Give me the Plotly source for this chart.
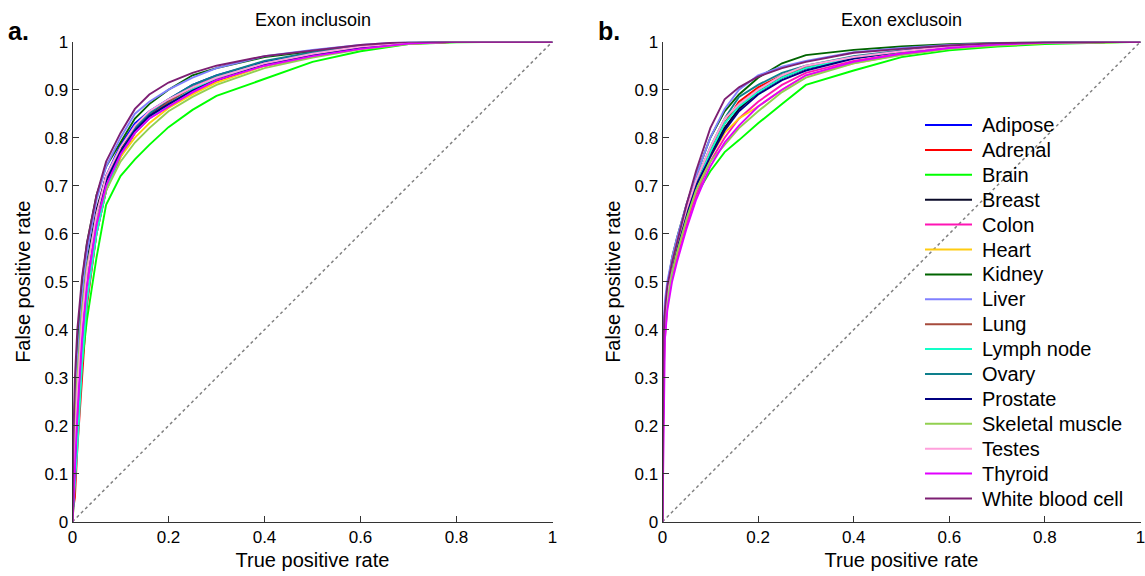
import plotly.graph_objects as go

tissues = ["Adipose", "Adrenal", "Brain", "Breast", "Colon", "Heart", "Kidney", "Liver",
           "Lung", "Lymph node", "Ovary", "Prostate", "Skeletal muscle", "Testes",
           "Thyroid", "White blood cell"]
colors = ["#0000ff", "#ff0000", "#00ff00", "#0a0a28", "#ff14b4", "#ffcc11", "#006400",
          "#8080ff", "#a64b3c", "#12ffc8", "#0e7f8c", "#000080", "#92d050", "#ffa0dc",
          "#e100ff", "#7d1f73"]

fpr_grid = [0, 0.002, 0.005, 0.01, 0.02, 0.03, 0.05, 0.07, 0.1, 0.13, 0.16, 0.2,
            0.25, 0.3, 0.4, 0.5, 0.6, 0.7, 0.8, 1.0]

# Panel a: Exon inclusion
inc_adipose = [0, 0.06, 0.12, 0.25, 0.42, 0.52, 0.64, 0.72, 0.785, 0.83, 0.855, 0.88, 0.91, 0.93, 0.958, 0.975, 0.99, 0.998, 1, 1]
inc_adrenal = [0, 0.03, 0.05, 0.15, 0.30, 0.45, 0.60, 0.69, 0.76, 0.81, 0.845, 0.87, 0.90, 0.92, 0.95, 0.97, 0.986, 0.996, 1, 1]
inc_brain = [0, 0.05, 0.10, 0.20, 0.33, 0.42, 0.55, 0.66, 0.72, 0.755, 0.785, 0.822, 0.858, 0.887, 0.922, 0.958, 0.98, 0.995, 0.999, 1]
inc_breast = [0, 0.08, 0.15, 0.28, 0.45, 0.54, 0.65, 0.72, 0.775, 0.82, 0.85, 0.875, 0.905, 0.925, 0.955, 0.973, 0.988, 0.997, 1, 1]
inc_colon = [0, 0.06, 0.12, 0.24, 0.40, 0.50, 0.62, 0.70, 0.765, 0.81, 0.84, 0.865, 0.893, 0.918, 0.95, 0.97, 0.986, 0.996, 1, 1]
inc_heart = [0, 0.08, 0.15, 0.28, 0.43, 0.52, 0.63, 0.70, 0.76, 0.80, 0.83, 0.862, 0.89, 0.915, 0.95, 0.97, 0.985, 0.996, 1, 1]
inc_kidney = [0, 0.15, 0.25, 0.36, 0.50, 0.58, 0.68, 0.74, 0.79, 0.84, 0.87, 0.90, 0.93, 0.945, 0.968, 0.98, 0.99, 0.998, 1, 1]
inc_liver = [0, 0.10, 0.20, 0.33, 0.47, 0.56, 0.67, 0.74, 0.80, 0.85, 0.875, 0.90, 0.925, 0.945, 0.97, 0.983, 0.993, 1, 1, 1]
inc_lung = [0, 0.05, 0.10, 0.20, 0.35, 0.46, 0.60, 0.69, 0.765, 0.815, 0.845, 0.875, 0.905, 0.925, 0.955, 0.973, 0.988, 0.997, 1, 1]
inc_lymph = [0, 0.04, 0.08, 0.15, 0.33, 0.46, 0.60, 0.69, 0.765, 0.81, 0.84, 0.87, 0.90, 0.925, 0.955, 0.975, 0.99, 0.998, 1, 1]
inc_ovary = [0, 0.08, 0.15, 0.28, 0.44, 0.53, 0.64, 0.71, 0.77, 0.82, 0.85, 0.88, 0.91, 0.93, 0.96, 0.978, 0.99, 0.998, 1, 1]
inc_prostate = [0, 0.06, 0.12, 0.25, 0.42, 0.52, 0.63, 0.71, 0.77, 0.815, 0.845, 0.87, 0.898, 0.92, 0.952, 0.972, 0.987, 0.997, 1, 1]
inc_skeletal = [0, 0.12, 0.20, 0.30, 0.44, 0.53, 0.63, 0.69, 0.75, 0.79, 0.82, 0.855, 0.885, 0.91, 0.945, 0.967, 0.984, 0.995, 1, 1]
inc_testes = [0, 0.08, 0.15, 0.27, 0.42, 0.52, 0.64, 0.72, 0.78, 0.825, 0.855, 0.88, 0.905, 0.925, 0.955, 0.975, 0.99, 0.998, 1, 1]
inc_thyroid = [0, 0.05, 0.10, 0.22, 0.38, 0.49, 0.62, 0.70, 0.765, 0.81, 0.84, 0.865, 0.895, 0.92, 0.95, 0.97, 0.985, 0.996, 1, 1]
inc_wbc = [0, 0.18, 0.30, 0.40, 0.51, 0.58, 0.68, 0.75, 0.81, 0.86, 0.89, 0.915, 0.935, 0.95, 0.97, 0.982, 0.993, 1, 1, 1]

# Panel b: Exon exclusion
exc_adipose = [0, 0.35, 0.43, 0.48, 0.53, 0.57, 0.64, 0.70, 0.77, 0.82, 0.86, 0.895, 0.925, 0.945, 0.966, 0.98, 0.99, 0.995, 0.998, 1]
exc_adrenal = [0, 0.35, 0.42, 0.47, 0.53, 0.57, 0.64, 0.70, 0.77, 0.83, 0.875, 0.905, 0.93, 0.948, 0.968, 0.98, 0.99, 0.995, 0.998, 1]
exc_brain = [0, 0.33, 0.41, 0.46, 0.52, 0.56, 0.63, 0.68, 0.73, 0.77, 0.795, 0.83, 0.87, 0.91, 0.94, 0.968, 0.982, 0.99, 0.995, 1]
exc_breast = [0, 0.36, 0.43, 0.48, 0.53, 0.57, 0.64, 0.70, 0.765, 0.82, 0.86, 0.895, 0.925, 0.945, 0.966, 0.98, 0.99, 0.995, 0.998, 1]
exc_colon = [0, 0.30, 0.38, 0.45, 0.51, 0.55, 0.62, 0.68, 0.75, 0.80, 0.84, 0.875, 0.91, 0.935, 0.96, 0.976, 0.988, 0.994, 0.998, 1]
exc_heart = [0, 0.33, 0.41, 0.46, 0.52, 0.56, 0.63, 0.69, 0.76, 0.81, 0.84, 0.865, 0.90, 0.93, 0.955, 0.973, 0.986, 0.993, 0.997, 1]
exc_kidney = [0, 0.36, 0.44, 0.49, 0.55, 0.59, 0.66, 0.72, 0.80, 0.855, 0.89, 0.925, 0.955, 0.972, 0.983, 0.99, 0.995, 0.998, 1, 1]
exc_liver = [0, 0.40, 0.46, 0.50, 0.55, 0.59, 0.66, 0.72, 0.80, 0.86, 0.90, 0.93, 0.948, 0.96, 0.978, 0.987, 0.993, 0.997, 0.999, 1]
exc_lung = [0, 0.35, 0.42, 0.47, 0.53, 0.57, 0.64, 0.70, 0.775, 0.83, 0.87, 0.90, 0.93, 0.948, 0.968, 0.98, 0.99, 0.995, 0.998, 1]
exc_lymph = [0, 0.33, 0.41, 0.46, 0.52, 0.57, 0.64, 0.70, 0.77, 0.83, 0.865, 0.895, 0.925, 0.945, 0.966, 0.98, 0.99, 0.995, 0.998, 1]
exc_ovary = [0, 0.37, 0.43, 0.48, 0.54, 0.58, 0.65, 0.71, 0.78, 0.84, 0.885, 0.91, 0.935, 0.95, 0.97, 0.982, 0.99, 0.996, 0.999, 1]
exc_prostate = [0, 0.36, 0.43, 0.48, 0.53, 0.57, 0.64, 0.70, 0.76, 0.815, 0.855, 0.89, 0.92, 0.94, 0.965, 0.98, 0.99, 0.995, 0.998, 1]
exc_skeletal = [0, 0.33, 0.41, 0.46, 0.52, 0.56, 0.63, 0.69, 0.75, 0.785, 0.82, 0.855, 0.895, 0.925, 0.955, 0.972, 0.985, 0.992, 0.997, 1]
exc_testes = [0, 0.35, 0.43, 0.48, 0.54, 0.58, 0.65, 0.71, 0.78, 0.84, 0.87, 0.90, 0.93, 0.95, 0.968, 0.98, 0.99, 0.995, 0.998, 1]
exc_thyroid = [0, 0.22, 0.38, 0.44, 0.50, 0.54, 0.61, 0.67, 0.74, 0.79, 0.825, 0.865, 0.90, 0.93, 0.958, 0.975, 0.987, 0.994, 0.998, 1]
exc_wbc = [0, 0.38, 0.44, 0.49, 0.54, 0.58, 0.66, 0.73, 0.82, 0.88, 0.905, 0.927, 0.945, 0.958, 0.977, 0.985, 0.992, 0.997, 0.999, 1]

inclusion = [inc_adipose, inc_adrenal, inc_brain, inc_breast, inc_colon, inc_heart, inc_kidney,
             inc_liver, inc_lung, inc_lymph, inc_ovary, inc_prostate, inc_skeletal, inc_testes,
             inc_thyroid, inc_wbc]
exclusion = [exc_adipose, exc_adrenal, exc_brain, exc_breast, exc_colon, exc_heart, exc_kidney,
             exc_liver, exc_lung, exc_lymph, exc_ovary, exc_prostate, exc_skeletal, exc_testes,
             exc_thyroid, exc_wbc]

x_ticks = [0, 0.2, 0.4, 0.6, 0.8, 1]
x_ticktext = ["0", "0.2", "0.4", "0.6", "0.8", "1"]
y_ticks = [0, 0.1, 0.2, 0.3, 0.4, 0.5, 0.6, 0.7, 0.8, 0.9, 1]
y_ticktext = ["0", "0.1", "0.2", "0.3", "0.4", "0.5", "0.6", "0.7", "0.8", "0.9", "1"]
diag = [0, 1]

FONT = "Liberation Sans, Arial, Helvetica, sans-serif"
W, H = 1145, 576

fig = go.Figure()

for panel, data in ((1, inclusion), (2, exclusion)):
    xa = "x" if panel == 1 else "x2"
    ya = "y" if panel == 1 else "y2"
    fig.add_trace(go.Scatter(x=diag, y=diag, mode="lines", xaxis=xa, yaxis=ya,
                             line=dict(color="#808080", width=1.5, dash="dot"),
                             showlegend=False, hoverinfo="skip"))
    for name, col, vals in zip(tissues, colors, data):
        fig.add_trace(go.Scatter(x=fpr_grid, y=vals, mode="lines", name=name,
                                 xaxis=xa, yaxis=ya,
                                 line=dict(color=col, width=1.9),
                                 showlegend=False))

axis_common = dict(range=[0, 1], showgrid=False, zeroline=False, showline=True,
                   linecolor="#333333", linewidth=1, ticks="inside", ticklen=6,
                   tickcolor="#333333", mirror=False, automargin=False,
                   ticklabeloverflow="allow",
                   tickfont=dict(family=FONT, size=17, color="#000000"))

ydom = [54.3 / H, 534.3 / H]
title_font = dict(size=20, family=FONT, color="#000000")

# Legend drawn inside panel b (line sample + label for each tissue)
leg_x0, leg_x1, leg_tx, leg_y0, leg_dy = 925, 972, 980, 125, 24.9
shapes = []
annotations = []
for i, (name, col) in enumerate(zip(tissues, colors)):
    yp = 1 - (leg_y0 + leg_dy * i) / H
    shapes.append(dict(type="line", xref="paper", yref="paper", x0=leg_x0 / W, x1=leg_x1 / W,
                       y0=yp, y1=yp, line=dict(color=col, width=2)))
    annotations.append(dict(text=name, x=leg_tx / W, y=yp, xref="paper", yref="paper",
                            showarrow=False, xanchor="left", yanchor="middle",
                            font=dict(size=20, family=FONT, color="#000000")))

annotations += [
    dict(text="Exon inclusoin", x=(72.5 + 552.5) / 2 / W, y=1 - 20 / H, xref="paper", yref="paper",
         showarrow=False, font=dict(size=18, family=FONT), xanchor="center", yanchor="middle"),
    dict(text="Exon exclusoin", x=(662.5 + 1140.5) / 2 / W, y=1 - 20 / H, xref="paper", yref="paper",
         showarrow=False, font=dict(size=18, family=FONT), xanchor="center", yanchor="middle"),
    dict(text="<b>a.</b>", x=6 / W, y=1 - 31 / H, xref="paper", yref="paper",
         showarrow=False, font=dict(size=25, family=FONT), xanchor="left", yanchor="middle"),
    dict(text="<b>b.</b>", x=596 / W, y=1 - 31 / H, xref="paper", yref="paper",
         showarrow=False, font=dict(size=25, family=FONT), xanchor="left", yanchor="middle"),
]

fig.update_layout(
    width=W, height=H,
    margin=dict(l=0, r=0, t=0, b=0),
    paper_bgcolor="white", plot_bgcolor="white",
    font=dict(family=FONT, color="#000000"),
    showlegend=False,
    xaxis=dict(domain=[72.5 / W, 552.5 / W], anchor="y", tickvals=x_ticks, ticktext=x_ticktext,
               title=dict(text="True positive rate", font=title_font, standoff=6), **axis_common),
    yaxis=dict(domain=ydom, anchor="x", tickvals=y_ticks, ticktext=y_ticktext,
               title=dict(text="False positive rate", font=title_font, standoff=8), **axis_common),
    xaxis2=dict(domain=[662.5 / W, 1140.5 / W], anchor="y2", tickvals=x_ticks, ticktext=x_ticktext,
                title=dict(text="True positive rate", font=title_font, standoff=6), **axis_common),
    yaxis2=dict(domain=ydom, anchor="x2", tickvals=y_ticks, ticktext=y_ticktext,
                title=dict(text="False positive rate", font=title_font, standoff=8), **axis_common),
    shapes=shapes,
    annotations=annotations,
)

fig.write_html("out.html")
